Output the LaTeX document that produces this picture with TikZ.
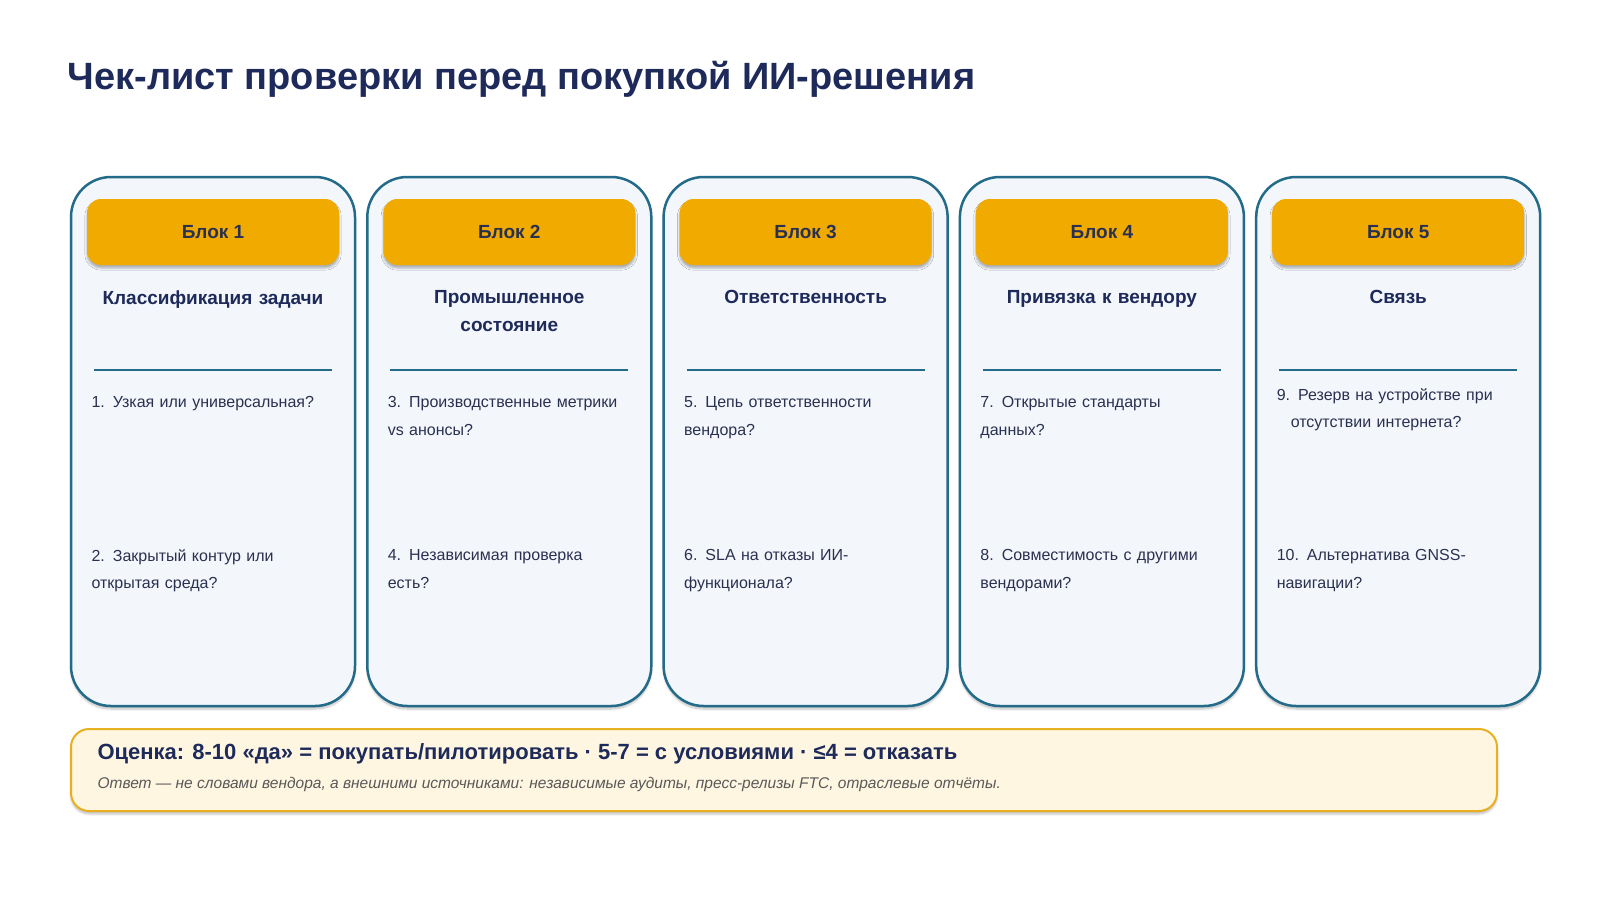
\documentclass[tikz,border=0pt]{standalone}
\usepackage{fontspec}
\setmainfont{Liberation Sans}
\usetikzlibrary{shadows.blur}
\definecolor{navy}{HTML}{1E2A5A}
\definecolor{cardfill}{HTML}{F3F7FB}
\definecolor{cardline}{HTML}{236B89}
\definecolor{gold}{HTML}{F0AA00}
\definecolor{txt}{HTML}{2A3050}
\definecolor{notefill}{HTML}{FFF6E1}
\definecolor{noteline}{HTML}{E8B020}
\begin{document}
\begin{tikzpicture}[x=1pt,y=-1pt,
  card/.style={draw=cardline,line width=2.5pt,fill=cardfill,rounded corners=40pt,blur shadow={shadow xshift=0pt,shadow yshift=-3pt,shadow blur steps=6,shadow opacity=25}},
  tag/.style={fill=gold,rounded corners=14pt,minimum width=252pt,minimum height=66pt,font=\bfseries\fontsize{19}{22}\selectfont,text=txt,blur shadow={shadow xshift=0pt,shadow yshift=-3pt,shadow opacity=30}},
  head/.style={align=center,text width=260pt,font=\bfseries\fontsize{19}{27.5}\selectfont,text=navy,anchor=north},
  item/.style={anchor=north west,align=left,text width=240pt,font=\fontsize{16}{27.5}\selectfont,text=txt}]
\useasboundingbox (0,0) rectangle (1600,900);
\node[anchor=west,font=\bfseries\fontsize{38}{44}\selectfont,text=navy] (title) at (64,79) {Чек-лист проверки перед покупкой ИИ-решения};
\foreach \i/\h/\a/\b/\ay in {%
1/{Классификация задачи}/{1. Узкая или универсальная?}/{2. Закрытый контур или\\открытая среда?}/407,
2/{Промышленное\\состояние}/{3. Производственные метрики\\vs анонсы?}/{4. Независимая проверка\\есть?}/407,
3/{Ответственность}/{5. Цепь ответственности\\вендора?}/{6. SLA на отказы ИИ-\\функционала?}/407,
4/{Привязка к вендору}/{7. Открытые стандарты\\данных?}/{8. Совместимость с другими\\вендорами?}/407,
5/{Связь}/{9. Резерв на устройстве при\\\hspace*{14pt}отсутствии интернета?}/{10. Альтернатива GNSS-\\навигации?}/399}{
  \pgfmathsetmacro\xl{71+(\i-1)*296.3}
  \draw[card] (\xl,177) rectangle ++(284,529);
  \node[tag] (tag\i) at (\xl+142,232) {Блок \i};
  \node[head] (head\i) at (\xl+142,287) {\h};
  \draw[cardline,line width=1.8pt] (\xl+23,370) -- (\xl+261,370);
  \node[item] (qa\i) at (\xl+17,\ay-14) {\a};
  \node[item] (qb\i) at (\xl+17,546) {\b};
}
\draw[draw=noteline,line width=2pt,fill=notefill,rounded corners=18pt,blur shadow={shadow xshift=0pt,shadow yshift=-3pt,shadow opacity=25}] (71,729) rectangle (1497,811);
\node[anchor=west,font=\bfseries\fontsize{22}{26}\selectfont,text=navy] (score) at (94,754) {Оценка: 8-10 «да» = покупать/пилотировать · 5-7 = с условиями · ≤4 = отказать};
\node[anchor=west,font=\itshape\fontsize{15.5}{18}\selectfont,text=black!65] (note) at (94,784) {Ответ — не словами вендора, а внешними источниками: независимые аудиты, пресс-релизы FTC, отраслевые отчёты.};
\end{tikzpicture}
\end{document}
